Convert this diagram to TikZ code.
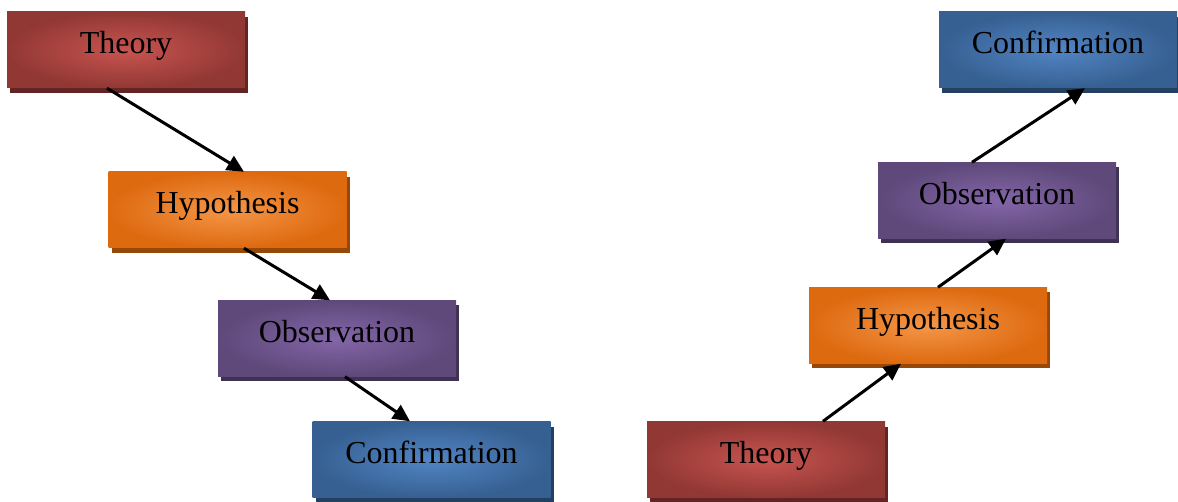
\documentclass[tikz,border=0pt]{standalone}
\usepackage{fontspec}
\setmainfont{Liberation Serif}
\usepackage{tikz}
\usetikzlibrary{arrows.meta}
\usetikzlibrary{shadows}

\definecolor{theoryin}{RGB}{200,84,80}
\definecolor{theoryout}{RGB}{146,56,52}
\definecolor{theoryshade}{RGB}{99,36,35}
\definecolor{hypoin}{RGB}{244,150,72}
\definecolor{hypoout}{RGB}{222,106,16}
\definecolor{hyposhade}{RGB}{152,72,6}
\definecolor{obsin}{RGB}{132,102,168}
\definecolor{obsout}{RGB}{94,73,122}
\definecolor{obsshade}{RGB}{63,49,81}
\definecolor{confin}{RGB}{82,133,196}
\definecolor{confout}{RGB}{54,96,146}
\definecolor{confshade}{RGB}{36,64,97}

\tikzset{
    stagebox/.style={rectangle,minimum width=238pt,minimum height=76pt,inner xsep=0pt,inner ysep=0pt,
        text height=42pt,text depth=34pt,font=\fontsize{32}{36}\selectfont},
    theorybox/.style={stagebox,inner color=theoryin,outer color=theoryout,
        drop shadow={shadow xshift=3pt,shadow yshift=-5pt,fill=theoryshade,opacity=1}},
    hypobox/.style={stagebox,inner color=hypoin,outer color=hypoout,
        drop shadow={shadow xshift=3pt,shadow yshift=-5pt,fill=hyposhade,opacity=1}},
    obsbox/.style={stagebox,inner color=obsin,outer color=obsout,
        drop shadow={shadow xshift=3pt,shadow yshift=-5pt,fill=obsshade,opacity=1}},
    confbox/.style={stagebox,inner color=confin,outer color=confout,
        drop shadow={shadow xshift=3pt,shadow yshift=-5pt,fill=confshade,opacity=1}},
    link/.style={color=black,line width=3pt,-{Triangle[length=17pt,width=16pt]}}
}

\begin{document}
\begin{tikzpicture}[x=1pt,y=-1pt,line join=bevel]
            \useasboundingbox (0,0) rectangle (1178,502);
            %
            % deductive side
            \node (theoryL) at (126,50) [theorybox] {Theory};
            \node (hypoL) at (227.5,210) [hypobox] {Hypothesis};
            \node (obsL) at (337,338.5) [obsbox] {Observation};
            \node (confL) at (431.5,459.5) [confbox] {Confirmation};
            % inductive side
            \node (theoryR) at (766,459.5) [theorybox] {Theory};
            \node (hypoR) at (928,325.5) [hypobox] {Hypothesis};
            \node (obsR) at (997,200.5) [obsbox] {Observation};
            \node (confR) at (1058,50) [confbox] {Confirmation};
            %
            \draw [link] ([xshift=-19pt]theoryL.south) to ([xshift=16.5pt]hypoL.north);
            \draw [link] ([xshift=16.5pt]hypoL.south) to ([xshift=-7pt]obsL.north);
            \draw [link] ([xshift=8pt]obsL.south) to ([xshift=-21.5pt]confL.north);
            %
            \draw [link] ([xshift=57pt]theoryR.north) to ([xshift=-27pt]hypoR.south);
            \draw [link] ([xshift=10pt]hypoR.north) to ([xshift=9pt]obsR.south);
            \draw [link] ([xshift=-25pt]obsR.north) to ([xshift=27pt]confR.south);
            %
        \end{tikzpicture}
\end{document}
